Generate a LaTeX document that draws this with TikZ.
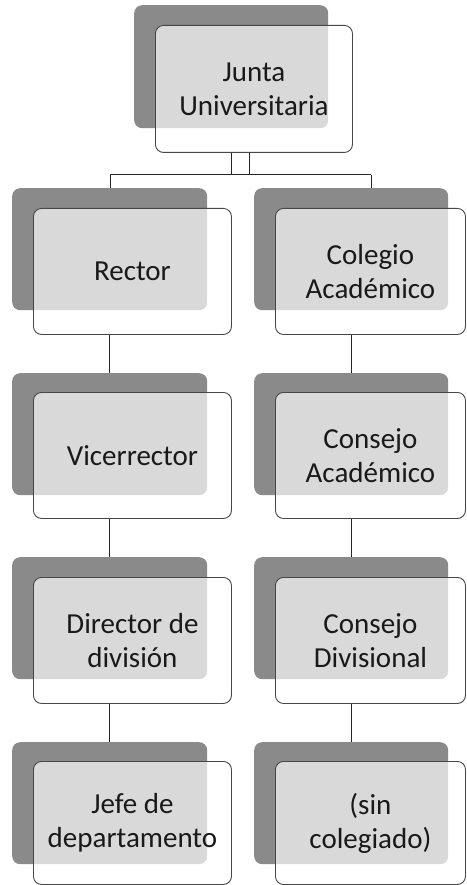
\documentclass[tikz,border=0pt]{standalone}
\usepackage{fontspec}
\setmainfont{Carlito}
\definecolor{backgray}{RGB}{138,138,138}
\definecolor{bordergray}{RGB}{70,70,70}
\definecolor{txt}{RGB}{25,25,25}
\tikzset{
  backbox/.style={rectangle, rounded corners=8pt, fill=backgray, minimum height=122pt, anchor=north west, inner sep=0pt},
  frontbox/.style={rectangle, rounded corners=8pt, draw=bordergray, line width=0.9pt, fill=white, fill opacity=0.68, text opacity=1, draw opacity=1, minimum height=126pt, anchor=north west, align=center, inner sep=0pt, text=txt, font=\fontsize{29}{34}\selectfont},
  conn/.style={draw=black!85, line width=1pt}
}
\begin{document}
\begin{tikzpicture}[x=1pt,y=-1pt]
\useasboundingbox (0,0) rectangle (466,885);
\fill[white] (0,0) rectangle (466,885);
% top
\node[backbox, minimum width=194pt, minimum height=123pt] (tb) at (134,5) {};
\node[frontbox, minimum width=197pt, minimum height=127pt] (tf) at (155,25) {Junta\\Universitaria};
% left column
\node[backbox, minimum width=195pt] (lb1) at (12,188) {};
\node[frontbox, minimum width=198pt] (lf1) at (33,208) {Rector};
\node[backbox, minimum width=195pt] (lb2) at (12,373) {};
\node[frontbox, minimum width=198pt] (lf2) at (33,392) {Vicerrector};
\node[backbox, minimum width=195pt] (lb3) at (12,557) {};
\node[frontbox, minimum width=198pt] (lf3) at (33,577) {Director de\\división};
\node[backbox, minimum width=195pt] (lb4) at (12,742) {};
\node[frontbox, minimum width=198pt, minimum height=123pt] (lf4) at (33,761) {Jefe de\\departamento};
% right column
\node[backbox, minimum width=194pt] (rb1) at (254,188) {};
\node[frontbox, minimum width=190pt] (rf1) at (275,208) {Colegio\\Académico};
\node[backbox, minimum width=194pt] (rb2) at (254,373) {};
\node[frontbox, minimum width=190pt] (rf2) at (275,392) {Consejo\\Académico};
\node[backbox, minimum width=194pt] (rb3) at (254,557) {};
\node[frontbox, minimum width=190pt] (rf3) at (275,577) {Consejo\\Divisional};
\node[backbox, minimum width=194pt] (rb4) at (254,742) {};
\node[frontbox, minimum width=190pt, minimum height=123pt] (rf4) at (275,761) {(sin\\colegiado)};
% connectors
\coordinate (hl) at (110,175);
\coordinate (hr) at (371,175);
\draw[conn] (tf.south -| tb.center) -- (tb.center |- hl);
\draw[conn] ([xshift=-4.5pt]tf.south) -- ([xshift=-4.5pt]tf.south |- hl);
\draw[conn] (hl) -- (hr);
\draw[conn] (hl) -- (hl |- lb1.north);
\draw[conn] (hr) -- (hr |- rb1.north);
\draw[conn] (lf1.south -| lb1.center) -- (lb2.north);
\draw[conn] (lf2.south -| lb2.center) -- (lb3.north);
\draw[conn] (lf3.south -| lb3.center) -- (lb4.north);
\draw[conn] (rf1.south -| rb1.center) -- (rb2.north);
\draw[conn] (rf2.south -| rb2.center) -- (rb3.north);
\draw[conn] (rf3.south -| rb3.center) -- (rb4.north);
\end{tikzpicture}
\end{document}
